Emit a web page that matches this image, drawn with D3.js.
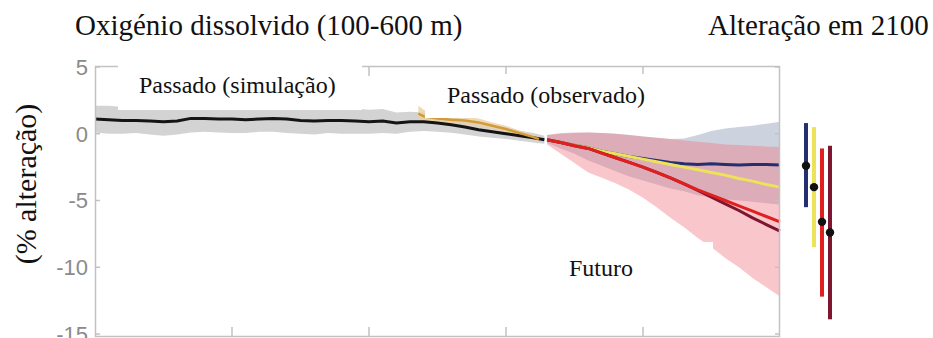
<!DOCTYPE html>
<html>
<head>
<meta charset="utf-8">
<script src="https://cdn.jsdelivr.net/npm/d3@7"></script>
<style>
  html, body { margin: 0; padding: 0; background: #fff; }
  svg { display: block; }
</style>
</head>
<body>
<svg id="chart" width="933" height="338"></svg>
<script>
// Past simulated mean and spread (% change), 1850-2014
const pastYears  = [1850,1855,1860,1865,1870,1875,1880,1885,1890,1895,1900,1905,1910,1915,1920,1925,1930,1935,1940,1945,1950,1955,1960,1965,1970,1975,1980,1985,1990,1995,2000,2005,2010,2014];
const pastMean   = [1.1,1.05,1.0,1.0,0.95,0.9,0.95,1.15,1.15,1.1,1.1,1.05,1.1,1.15,1.1,1.0,0.95,1.0,1.0,0.95,0.9,0.95,0.8,0.9,0.9,0.8,0.67,0.5,0.3,0.15,0.0,-0.15,-0.3,-0.45];
const pastSpread = [1.0,1.05,1.0,0.95,1.0,1.05,1.0,1.05,1.0,1.0,1.05,1.0,0.95,1.0,1.05,1.0,1.0,0.95,1.0,0.95,0.9,0.9,0.8,0.75,0.7,0.65,0.6,0.55,0.5,0.45,0.4,0.38,0.35,0.3];

// Observed change, 1968-2012
const obsYears  = [1968,1970,1975,1980,1985,1990,1995,2000,2005,2010,2012];
const obsMean   = [1.5,1.3,1.15,1.05,1.0,0.85,0.6,0.35,0.05,-0.25,-0.4];
const obsSpread = [0.6,0.5,0.35,0.3,0.3,0.3,0.25,0.25,0.2,0.2,0.2];

// Projections, 2015-2100
const futYears = [2015,2020,2025,2030,2035,2040,2045,2050,2055,2060,2065,2070,2075,2080,2085,2090,2095,2100];
const ssp126 = [-0.45,-0.65,-0.85,-1.05,-1.3,-1.5,-1.7,-1.85,-2.0,-2.15,-2.25,-2.3,-2.25,-2.3,-2.35,-2.3,-2.3,-2.35];
const ssp245 = [-0.45,-0.65,-0.85,-1.05,-1.3,-1.5,-1.7,-1.9,-2.1,-2.3,-2.5,-2.7,-2.9,-3.1,-3.35,-3.55,-3.8,-4.0];
const ssp370 = [-0.45,-0.65,-0.9,-1.1,-1.45,-1.8,-2.15,-2.5,-2.9,-3.3,-3.75,-4.2,-4.6,-5.0,-5.4,-5.8,-6.2,-6.6];
const ssp585 = [-0.45,-0.65,-0.9,-1.1,-1.45,-1.8,-2.15,-2.5,-2.9,-3.3,-3.75,-4.25,-4.75,-5.25,-5.75,-6.3,-6.8,-7.3];

// Model ranges for the low and high scenarios
const lowTop     = [-0.1,0.0,0.05,0.1,0.05,0.0,-0.1,-0.2,-0.3,-0.4,-0.35,-0.1,0.2,0.4,0.5,0.6,0.75,0.9];
const lowBottom  = [-0.7,-1.1,-1.5,-2.0,-2.4,-2.8,-3.2,-3.5,-3.8,-4.1,-4.3,-4.6,-4.8,-4.9,-5.0,-5.1,-5.2,-5.3];
const highTop    = [-0.1,0.05,0.1,0.1,0.05,0.0,-0.1,-0.2,-0.3,-0.4,-0.5,-0.6,-0.7,-0.8,-0.85,-0.9,-0.95,-1.0];
const highBottom = [-0.8,-1.5,-2.2,-2.9,-3.3,-3.7,-4.2,-4.8,-5.5,-6.3,-7.0,-7.8,-8.5,-9.3,-10.0,-10.8,-11.5,-12.2];

// Change in 2100 with model range, per scenario
const scenarios  = ["SSP1-2.6","SSP2-4.5","SSP3-7.0","SSP5-8.5"];
const change2100 = [-2.4,-4.0,-6.6,-7.4];
const rangeHigh  = [0.8,0.5,-1.1,-0.9];
const rangeLow   = [-5.5,-8.5,-12.2,-13.9];
const scenColors = ["#24306e","#ece35a","#e0201f","#7e1630"];

const yTicks = [5,0,-5,-10,-15];
const xTicks = [1900,1950,2000,2050];

const svg = d3.select("#chart");
const serif = "'Liberation Serif','Times New Roman',serif";
const sans = "'Liberation Sans',Arial,sans-serif";

const x = d3.scaleLinear().domain([1850,2100]).range([95,780]);
const y = d3.scaleLinear().domain([-15,5]).range([334,67]);
const xs = d3.scalePoint().domain(scenarios).range([806,830]);

const area = (yrs, lo, hi) => d3.area()
  .x((d,i) => x(yrs[i])).y0((d,i) => y(lo[i])).y1((d,i) => y(hi[i]))(yrs);
const line = (yrs, vals) => d3.line()
  .x((d,i) => x(yrs[i])).y((d,i) => y(vals[i]))(yrs);

// Uncertainty bands
svg.append("path").attr("d", area(pastYears, pastMean.map((m,i)=>m-pastSpread[i]), pastMean.map((m,i)=>m+pastSpread[i])))
  .attr("fill", "#d3d3d3");
svg.append("path").attr("d", area(obsYears, obsMean.map((m,i)=>m-obsSpread[i]), obsMean.map((m,i)=>m+obsSpread[i])))
  .attr("fill", "#e9d2a6").attr("opacity", 0.8);
svg.append("path").attr("d", area(futYears, lowBottom, lowTop)).attr("fill", "#cdd3de");
svg.append("path").attr("d", area(futYears, highBottom, highTop)).attr("fill", "rgb(240,120,130)").attr("opacity", 0.42);

// Lines
svg.append("path").attr("d", line(pastYears, pastMean)).attr("fill","none").attr("stroke","#141414").attr("stroke-width",3);
svg.append("path").attr("d", line(obsYears, obsMean)).attr("fill","none").attr("stroke","#d49a38").attr("stroke-width",2.5);
[[ssp126,0],[ssp245,1],[ssp585,3],[ssp370,2]].forEach(([vals,k]) => {
  svg.append("path").attr("d", line(futYears, vals)).attr("fill","none")
    .attr("stroke", scenColors[k]).attr("stroke-width", 3).attr("stroke-linejoin","round");
});

// Frame and inward ticks
const frame = svg.append("g").attr("stroke","#c2c2c2").attr("stroke-width",1.5).attr("fill","none");
frame.append("rect").attr("x",95.5).attr("y",66.5).attr("width",684).attr("height",270);
yTicks.forEach(t => {
  frame.append("line").attr("x1",95.5).attr("x2",100).attr("y1",y(t)).attr("y2",y(t));
  frame.append("line").attr("x1",775).attr("x2",779.5).attr("y1",y(t)).attr("y2",y(t));
});
xTicks.forEach(t => {
  frame.append("line").attr("x1",x(t)).attr("x2",x(t)).attr("y1",336.5).attr("y2",327);
  frame.append("line").attr("x1",x(t)).attr("x2",x(t)).attr("y1",66.5).attr("y2",76);
});

// Y tick labels
svg.append("g").selectAll("text").data(yTicks).join("text")
  .attr("x", 88).attr("y", d => y(d)).attr("dy","0.36em")
  .attr("text-anchor","end").attr("fill","#8a8a8a")
  .attr("font-family", sans).attr("font-size", 22)
  .text(d => d);

// Label panels
const boxes = [
  {x0:118, y0:58, x1:362, y1:110, tx:139, ty:93, label:"Passado (simulação)"},
  {x0:425, y0:74, x1:680, y1:118, tx:447, ty:103, label:"Passado (observado)"},
  {x0:552, y0:242, x1:713, y1:300, tx:569, ty:276, label:"Futuro"}
];
boxes.forEach(b => {
  svg.append("rect").attr("x",b.x0).attr("y",b.y0).attr("width",b.x1-b.x0).attr("height",b.y1-b.y0).attr("fill","#fff");
  svg.append("text").attr("x",b.tx).attr("y",b.ty).attr("font-family",serif).attr("font-size",24).attr("fill","#111").text(b.label);
});

// Change in 2100: ranges and central values
const bars = svg.append("g");
scenarios.forEach((s,i) => {
  bars.append("line").attr("x1",xs(s)).attr("x2",xs(s)).attr("y1",y(rangeHigh[i])).attr("y2",y(rangeLow[i]))
    .attr("stroke",scenColors[i]).attr("stroke-width",4);
});
scenarios.forEach((s,i) => {
  bars.append("circle").attr("cx",xs(s)).attr("cy",y(change2100[i])).attr("r",4.2).attr("fill","#111");
});

// Titles
svg.append("text").attr("x",75).attr("y",35).attr("font-family",serif).attr("font-size",29).attr("fill","#111")
  .text("Oxigénio dissolvido (100-600 m)");
svg.append("text").attr("x",708).attr("y",35).attr("font-family",serif).attr("font-size",29).attr("fill","#111")
  .text("Alteração em 2100");
svg.append("text").attr("transform","translate(36,184) rotate(-90)").attr("text-anchor","middle")
  .attr("font-family",serif).attr("font-size",30).attr("fill","#111").text("(% alteração)");
</script>
</body>
</html>
